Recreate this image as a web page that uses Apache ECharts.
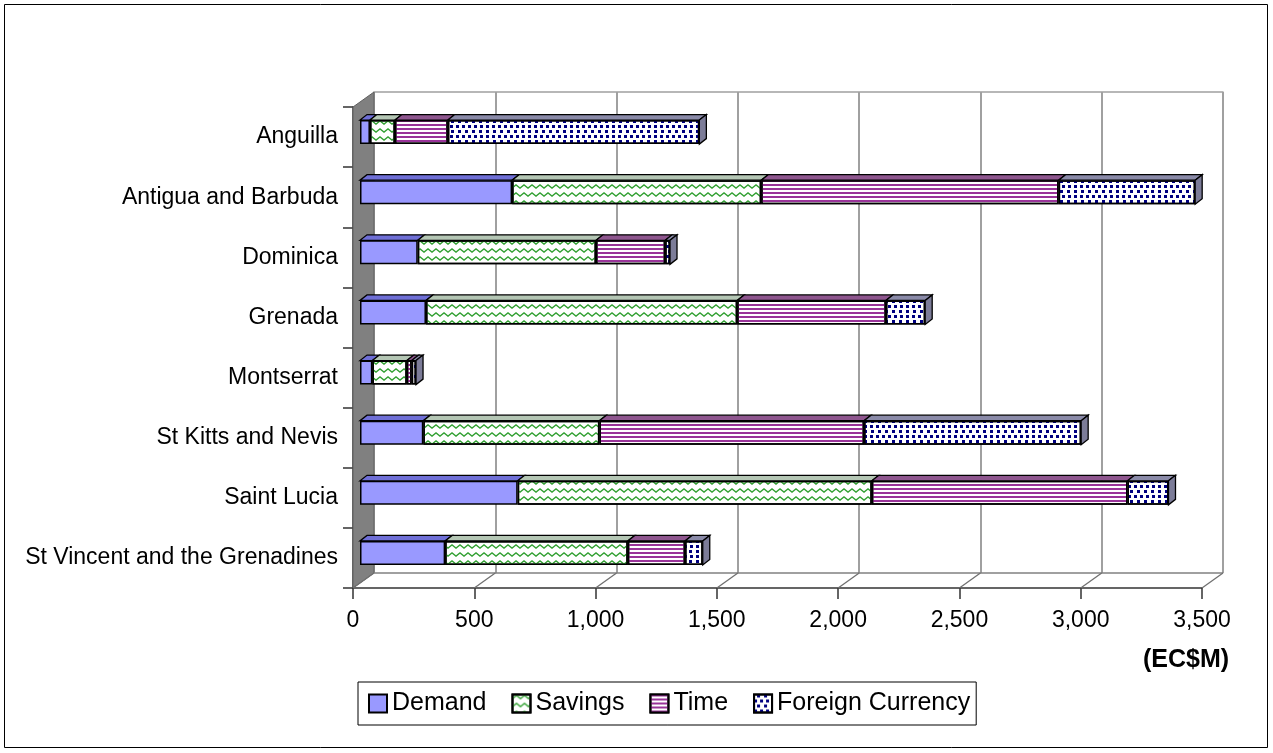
<!DOCTYPE html>
<html>
<head>
<meta charset="utf-8">
<script src="https://cdn.jsdelivr.net/npm/echarts@6/dist/echarts.min.js"></script>
<style>html,body{margin:0;padding:0;background:#fff}#c{width:1273px;height:753px}</style>
</head>
<body>
<div id="c"></div>
<script>
// ---- data ----
const categories = ['Anguilla', 'Antigua and Barbuda', 'Dominica', 'Grenada', 'Montserrat',
  'St Kitts and Nevis', 'Saint Lucia', 'St Vincent and the Grenadines'];
const demand          = [41, 627, 238, 272, 51, 261, 650, 351];
const savings         = [103, 1027, 735, 1283, 142, 726, 1460, 753];
const time            = [218, 1226, 285, 613, 20, 1091, 1054, 236];
const foreignCurrency = [1037, 563, 20, 162, 18, 895, 169, 73];
const seriesNames = ['Demand', 'Savings', 'Time', 'Foreign Currency'];
const xTicks = [0, 500, 1000, 1500, 2000, 2500, 3000, 3500];
const unitLabel = '(EC$M)';

// ---- styling ----
const FONT = '"Liberation Sans", Arial, sans-serif';
const seriesData = [demand, savings, time, foreignCurrency];
const frontColors = ['#9999FF', '#ffffff', '#ffffff', '#ffffff'];
const topColors = ['#6F6FD6', '#b4c6b4', '#8e568e', '#8a8aa8'];
const sideColor = '#7c7c98';
const decals = [
  null,
  { symbol: 'path://M0,4 L4,0 L8,4 L8,6 L4,2 L0,6 Z', symbolSize: 1, symbolKeepAspect: false,
    color: '#2f9f2f', dashArrayX: [[8, 0]], dashArrayY: [5, 3], rotation: 0 },
  { symbol: 'rect', symbolSize: 1, symbolKeepAspect: false, color: '#993399',
    dashArrayX: [[8, 0]], dashArrayY: [1.6, 1.4], rotation: 0 },
  { symbol: 'rect', symbolSize: 1, color: '#000080', symbolKeepAspect: false,
    dashArrayX: [[2.2, 3], [0, 2.6, 2.2, 0.4]], dashArrayY: [2.2, 2], rotation: 0 }
];
const DEPTH_X = 21, DEPTH_Y = 15;   // floor / wall depth
const BAR_DX = 7, BAR_DY = 5.5;     // bar depth
const BAR_W = 24;

const chart = echarts.init(document.getElementById('c'), null, { renderer: 'canvas' });

const barSeries = seriesNames.map((name, k) => ({
  name: name,
  type: 'bar',
  stack: 'total',
  xAxisIndex: 1,
  yAxisIndex: 1,
  barWidth: BAR_W,
  z: 3,
  data: seriesData[k],
  itemStyle: Object.assign(
    { color: frontColors[k], borderColor: '#000', borderWidth: 1.5 },
    decals[k] ? { decal: decals[k] } : {}
  ),
  emphasis: { disabled: true }
}));

const facesSeries = {
  type: 'custom',
  name: 'faces',
  xAxisIndex: 1,
  yAxisIndex: 1,
  z: 4,
  silent: true,
  data: categories.map((c, i) => [0, i]),
  encode: { x: 0, y: 1 },
  renderItem: function (params, api) {
    const i = params.dataIndex;
    const cum = [0];
    seriesData.forEach(arr => cum.push(cum[cum.length - 1] + arr[i]));
    const yc = api.coord([0, i])[1];
    const top = yc - BAR_W / 2;
    const children = [];
    for (let k = 0; k < 4; k++) {
      const x0 = api.coord([cum[k], i])[0];
      const x1 = api.coord([cum[k + 1], i])[0];
      children.push({
        type: 'polygon',
        shape: { points: [[x0, top], [x1, top], [x1 + BAR_DX, top - BAR_DY], [x0 + BAR_DX, top - BAR_DY]] },
        style: { fill: topColors[k], stroke: '#000', lineWidth: 1.3 }
      });
    }
    const xe = api.coord([cum[4], i])[0];
    children.push({
      type: 'polygon',
      shape: { points: [[xe, top], [xe + BAR_DX, top - BAR_DY], [xe + BAR_DX, top - BAR_DY + BAR_W], [xe, top + BAR_W]] },
      style: { fill: sideColor, stroke: '#000', lineWidth: 1.3 }
    });
    return { type: 'group', children: children };
  }
};

const wallSeries = {
  type: 'custom',
  name: 'wall',
  xAxisIndex: 2,
  yAxisIndex: 2,
  z: 1,
  silent: true,
  data: [[0, 0]],
  encode: { x: 0, y: 1 },
  renderItem: function (params, api) {
    const cs = params.coordSys;
    const x = cs.x, y = cs.y, yb = cs.y + cs.height, w = cs.width;
    return {
      type: 'group',
      children: [
        { type: 'polygon',
          shape: { points: [[x, yb], [x + DEPTH_X, yb - DEPTH_Y], [x + DEPTH_X, y - DEPTH_Y], [x, y]] },
          style: { fill: '#808080', stroke: '#606060', lineWidth: 1 } },
        { type: 'line',
          shape: { x1: x + DEPTH_X, y1: yb - DEPTH_Y, x2: x + DEPTH_X + w, y2: yb - DEPTH_Y },
          style: { stroke: '#808080', lineWidth: 1.5 } }
      ]
    };
  }
};

const floorSeries = {
  type: 'custom',
  name: 'floor',
  xAxisIndex: 2,
  yAxisIndex: 2,
  z: 1,
  silent: true,
  data: xTicks.map(v => [v, 0]),
  encode: { x: 0, y: 1 },
  renderItem: function (params, api) {
    const cs = params.coordSys;
    const yb = cs.y + cs.height;
    const xf = api.coord([api.value(0), 0])[0];
    return {
      type: 'line',
      shape: { x1: xf, y1: yb, x2: xf + DEPTH_X, y2: yb - DEPTH_Y },
      style: { stroke: '#707070', lineWidth: 1.3 }
    };
  }
};

const option = {
  animation: false,
  backgroundColor: '#ffffff',
  textStyle: { fontFamily: FONT },
  grid: [
    { left: 374, top: 92, width: 849, height: 481 },   // back wall
    { left: 360, top: 102, width: 849, height: 481 },  // bars (front faces)
    { left: 353, top: 107, width: 849, height: 481 }   // front axes
  ],
  xAxis: [
    { gridIndex: 0, type: 'value', min: 0, max: 3500, interval: 500, position: 'top',
      axisLine: { show: true, lineStyle: { color: '#a0a0a0', width: 1.5 } },
      axisTick: { show: false }, axisLabel: { show: false },
      splitLine: { show: true, lineStyle: { color: '#808080', width: 1.5 } } },
    { gridIndex: 1, type: 'value', min: 0, max: 3500, show: false },
    { gridIndex: 2, type: 'value', min: 0, max: 3500, interval: 500,
      axisLine: { show: true, lineStyle: { color: '#333', width: 1.5 } },
      axisTick: { show: true, length: 11, lineStyle: { color: '#333', width: 1.5 } },
      axisLabel: { fontSize: 23, color: '#000', margin: 21, fontFamily: FONT,
        formatter: v => v.toLocaleString('en-US') },
      splitLine: { show: false } }
  ],
  yAxis: [
    { gridIndex: 0, type: 'category', data: categories, inverse: true, show: false },
    { gridIndex: 1, type: 'category', data: categories, inverse: true, show: false },
    { gridIndex: 2, type: 'category', data: categories, inverse: true,
      axisLine: { show: true, lineStyle: { color: '#333', width: 1.5 } },
      axisTick: { show: true, length: 10, lineStyle: { color: '#333', width: 1.5 } },
      axisLabel: { fontSize: 23, color: '#000', margin: 15, fontFamily: FONT },
      splitLine: { show: false } }
  ],
  legend: {
    data: seriesNames,
    left: 358,
    top: 682,
    orient: 'horizontal',
    icon: 'rect',
    itemWidth: 18,
    itemHeight: 18,
    itemGap: 25,
    padding: [9, 6, 9, 10],
    borderColor: '#000',
    borderWidth: 1,
    textStyle: { fontSize: 25, color: '#000', fontFamily: FONT },
    selectedMode: false
  },
  graphic: [
    { type: 'rect', shape: { x: 4.5, y: 4.5, width: 1263, height: 743 },
      style: { fill: null, stroke: '#000', lineWidth: 1 }, silent: true, z: -10 },
    { type: 'text', left: 1143, top: 648,
      style: { text: unitLabel, font: 'bold 25px ' + FONT, fill: '#000' } }
  ],
  series: [wallSeries, floorSeries].concat(barSeries, [facesSeries])
};

chart.setOption(option);
</script>
</body>
</html>
